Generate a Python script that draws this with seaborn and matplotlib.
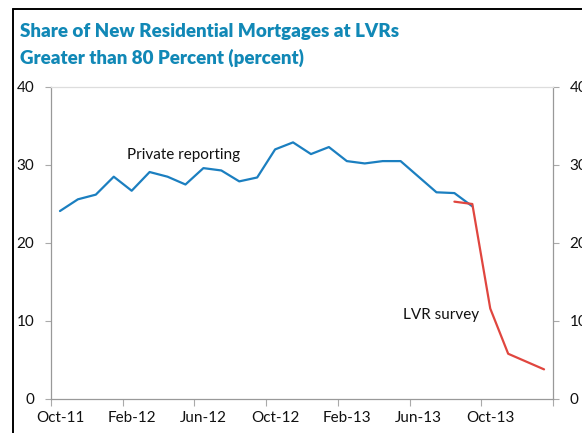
import pandas as pd
import numpy as np
import matplotlib
matplotlib.use("Agg")
import matplotlib.pyplot as plt
import seaborn as sns
from matplotlib.lines import Line2D

# months Oct-11 .. Jan-14
months = pd.period_range("2011-10", "2014-01", freq="M")
month_labels = [m.strftime("%b-%y") for m in months]

# Private reporting, Oct-11 .. Sep-13
private = [24.1, 25.6, 26.2, 28.5, 26.7, 29.1, 28.5, 27.5, 29.6, 29.3, 27.9, 28.4,
           32.0, 32.9, 31.4, 32.3, 30.5, 30.2, 30.5, 30.5, 28.5, 26.5, 26.4, 24.7]
# LVR survey, Aug-13 .. Jan-14
lvr = [25.3, 25.0, 11.6, 5.8, 4.8, 3.8]

yticks = [0, 10, 20, 30, 40]

blue = "#1b7fc0"
red = "#e0463f"
title_col = "#1188b6"

sns.set_style("ticks")
plt.rcParams["font.family"] = ["Lato", "DejaVu Sans"]

idx = list(range(len(months)))
df_priv = pd.DataFrame({"x": idx[:len(private)], "y": private})
df_lvr = pd.DataFrame({"x": idx[len(private) - 2:len(private) - 2 + len(lvr)], "y": lvr})

fig = plt.figure(figsize=(5.82, 4.33), dpi=100)
ax = fig.add_axes([51 / 582, 34 / 433, 502 / 582, 312 / 433])

sns.lineplot(data=df_priv, x="x", y="y", color=blue, linewidth=1.6, ax=ax)
sns.lineplot(data=df_lvr, x="x", y="y", color=red, linewidth=1.6, ax=ax)

ax.set_xlim(-0.5, len(months) - 0.5)
ax.set_ylim(0, 40)
ax.set_xlabel("")
ax.set_ylabel("")

# ticks at month boundaries, labels centred on months
ax.set_xticks(np.arange(-0.5, len(months), 4))
ax.set_xticklabels([])
ax.set_xticks(np.arange(0, len(months), 4), minor=True)
ax.set_xticklabels(month_labels[::4], minor=True)
ax.tick_params(axis="x", which="major", length=5, width=0.8, color="#aaaaaa", direction="out")
ax.tick_params(axis="x", which="minor", length=0, pad=9, labelsize=11, labelcolor="#111111")

ax.set_yticks(yticks)
ax.tick_params(axis="y", length=4, width=0.8, color="#aaaaaa", pad=8, labelsize=11,
               labelcolor="#111111", right=True, labelright=True)

for s in ["left", "bottom", "right"]:
    ax.spines[s].set_visible(True)
    ax.spines[s].set_color("#999999")
    ax.spines[s].set_linewidth(0.9)
ax.spines["top"].set_visible(True)
ax.spines["top"].set_color("#dddddd")
ax.spines["top"].set_linewidth(0.9)

ax.text(6.87, 31.3, "Private reporting", ha="center", va="center", fontsize=11, color="#111111")
ax.text(21.23, 10.8, "LVR survey", ha="center", va="center", fontsize=11, color="#111111")

fig.text(20 / 582, 1 - 31 / 433, "Share of New Residential Mortgages at LVRs",
         ha="left", va="center", fontsize=13.5, fontweight="heavy", color=title_col)
fig.text(20 / 582, 1 - 58 / 433, "Greater than 80 Percent (percent)",
         ha="left", va="center", fontsize=13.5, fontweight="heavy", color=title_col)

# black frame on left and top
fig.add_artist(Line2D([12.5 / 582, 12.5 / 582], [0, 1 - 8.5 / 433], color="black", linewidth=1.4,
                      transform=fig.transFigure))
fig.add_artist(Line2D([12.5 / 582, 1], [1 - 8.5 / 433, 1 - 8.5 / 433], color="black", linewidth=1.4,
                      transform=fig.transFigure))

fig.savefig("out.png", dpi=100)
